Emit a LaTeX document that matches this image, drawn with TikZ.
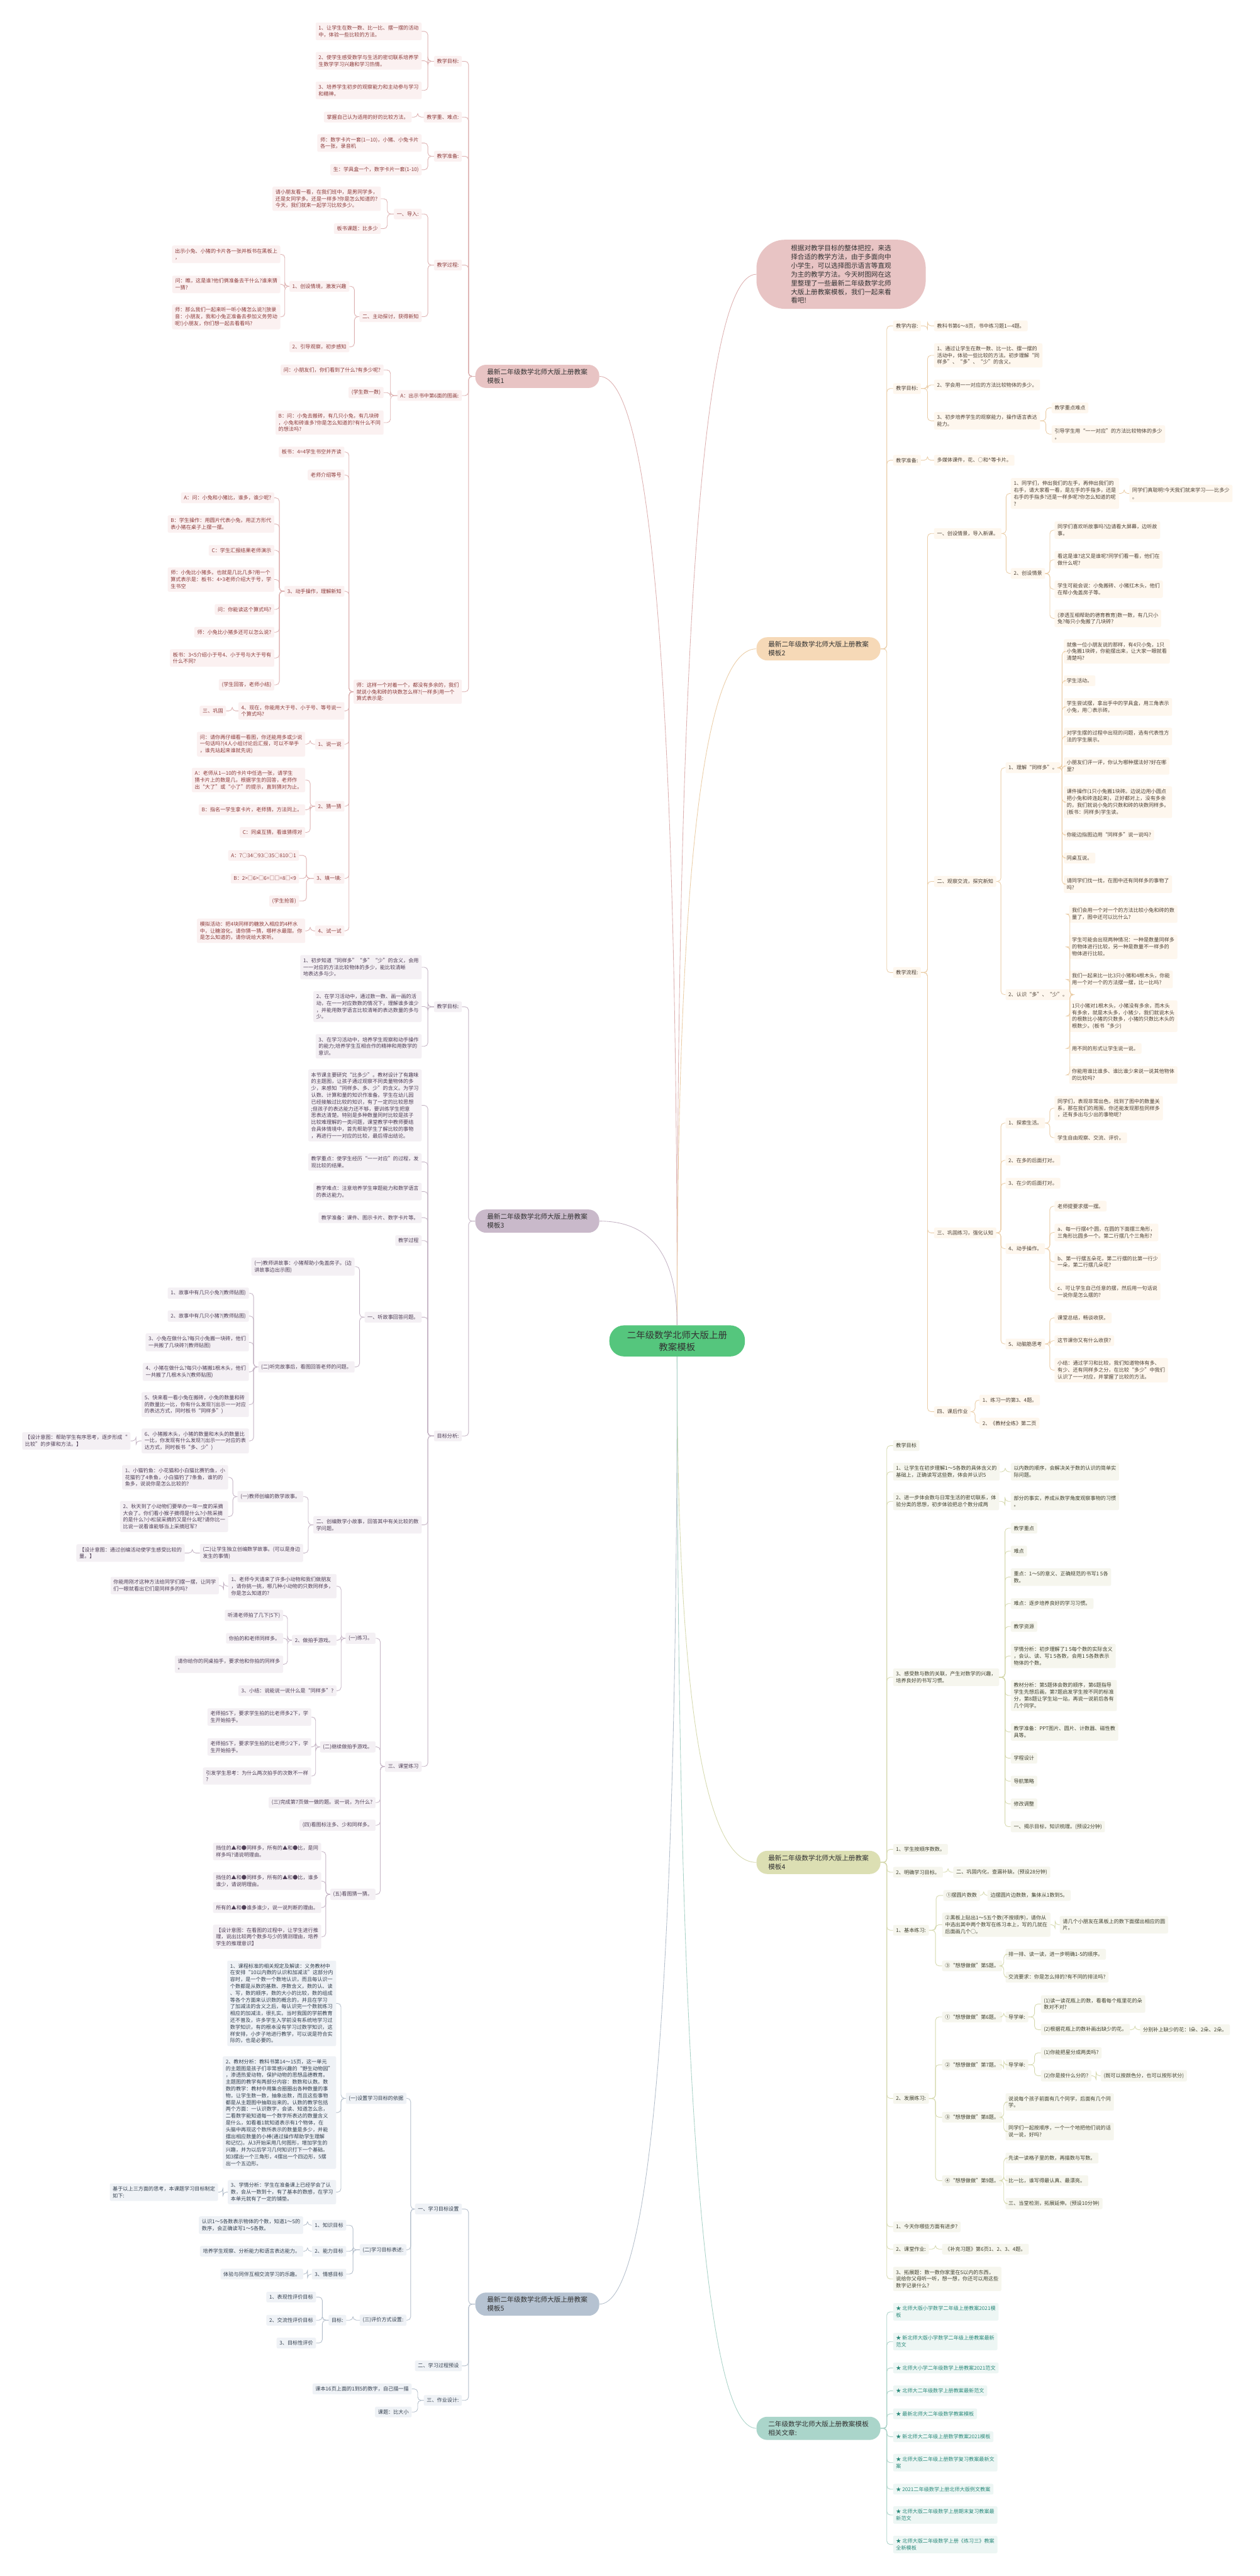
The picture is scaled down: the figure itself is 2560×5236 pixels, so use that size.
\documentclass[tikz,border=0pt]{standalone}
\usepackage{fontspec}
\setmainfont{Noto Sans CJK SC}
\usetikzlibrary{calc}
\definecolor{fillA}{HTML}{FBF1F1}\definecolor{textA}{HTML}{8C3B3B}\definecolor{lineA}{HTML}{DDB0B0}\definecolor{mainA}{HTML}{E8C4C4}
\definecolor{fillB}{HTML}{FEF7EE}\definecolor{textB}{HTML}{4D4136}\definecolor{lineB}{HTML}{EBCDA6}\definecolor{mainB}{HTML}{F6D9B7}
\definecolor{fillC}{HTML}{F4F0F4}\definecolor{textC}{HTML}{4E3E56}\definecolor{lineC}{HTML}{C5B4C5}\definecolor{mainC}{HTML}{C9B9CA}
\definecolor{fillD}{HTML}{F6F6EE}\definecolor{textD}{HTML}{40412F}\definecolor{lineD}{HTML}{D6D9AE}\definecolor{mainD}{HTML}{DCDFB3}
\definecolor{fillE}{HTML}{EFF2F6}\definecolor{textE}{HTML}{34404F}\definecolor{lineE}{HTML}{B3BECB}\definecolor{mainE}{HTML}{B5C2D1}
\definecolor{fillF}{HTML}{EDF6F4}\definecolor{textF}{HTML}{2B8A7B}\definecolor{lineF}{HTML}{A9D2C7}\definecolor{mainF}{HTML}{AAD5CA}
\definecolor{rootgreen}{HTML}{55C67D}\definecolor{inkmain}{HTML}{333333}
\tikzset{
  leaf/.style={rounded corners=3pt,inner xsep=6pt,inner ysep=6pt,align=left,font=\fontsize{10.4}{13.8}\selectfont},
  ka/.style={leaf,anchor=east,fill=fillA,text=textA},
  kb/.style={leaf,anchor=west,fill=fillB,text=textB},
  kc/.style={leaf,anchor=east,fill=fillC,text=textC},
  kd/.style={leaf,anchor=west,fill=fillD,text=textD},
  ke/.style={leaf,anchor=east,fill=fillE,text=textE},
  kf/.style={leaf,anchor=west,fill=fillF,text=textF},
  mainbox/.style={rounded corners=22pt,inner xsep=24pt,inner ysep=8.5pt,align=left,text=inkmain,font=\fontsize{13.6}{17.5}\selectfont},
  rootbox/.style={rounded corners=30pt,inner xsep=36pt,inner ysep=11pt,align=center,fill=rootgreen,text=inkmain,font=\fontsize{18.5}{24}\selectfont},
  link/.style={line width=1.1pt,rounded corners=7pt},
  la/.style={link,draw=lineA},lb/.style={link,draw=lineB},lc/.style={link,draw=lineC},
  ld/.style={link,draw=lineD},le/.style={link,draw=lineE},lf/.style={link,draw=lineF}
}
% left branch: parent west -> spine -> child east; right branch mirrored
\newcommand{\lks}[3]{\foreach \ch in {#3}{\draw[#1] (#2.west) -- ($(#2.west -| \ch.east)!.5!(#2.west)$) |- (\ch.east);}}
\newcommand{\rks}[3]{\foreach \ch in {#3}{\draw[#1] (#2.east) -- ($(#2.east -| \ch.west)!.5!(#2.east)$) |- (\ch.west);}}
\newcommand{\rtl}[3]{\draw[#1] (rt.#2) .. controls ($(rt.#2)!.667!(rt.#2 |- #3)$) and ($(#3)!.667!(rt.#2 |- #3)$) .. (#3);}
\begin{document}
\begin{tikzpicture}[x=1pt,y=-1pt]
\useasboundingbox (0,0) rectangle (2560,5236);
\fill[white] (0,0) rectangle (2560,5236);

% root and main branches
\node[rootbox] (rt) at (1376,2725.5) {二年级数学北师大版上册\\教案模板};
\node[mainbox,anchor=west,fill=mainA,rounded corners=58pt,inner xsep=70pt,inner ysep=10.5pt,font=\fontsize{13.6}{17.8}\selectfont] (m0) at (1537,557.5)
  {根据对教学目标的整体把控，来选\\择合适的教学方法，由于多面向中\\小学生，可以选择图示语言等直观\\为主的教学方法。今天树图网在这\\里整理了一些最新二年级数学北师\\大版上册教案模板，我们一起来看\\看吧!};
\node[mainbox,anchor=east,fill=mainA] (m1) at (1218,765) {最新二年级数学北师大版上册教案\\模板1};
\node[mainbox,anchor=west,fill=mainB] (m2) at (1537,1318.8) {最新二年级数学北师大版上册教案\\模板2};
\node[mainbox,anchor=east,fill=mainC] (m3) at (1218,2482) {最新二年级数学北师大版上册教案\\模板3};
\node[mainbox,anchor=west,fill=mainD] (m4) at (1537,3785.5) {最新二年级数学北师大版上册教案\\模板4};
\node[mainbox,anchor=east,fill=mainE] (m5) at (1218,4683.4) {最新二年级数学北师大版上册教案\\模板5};
\node[mainbox,anchor=west,fill=mainF] (m6) at (1537,4935.8) {二年级数学北师大版上册教案模板\\相关文章:};

% template 1
\node[ka] (a1) at (938.7,124.6) {教学目标:};
\node[ka] (a11) at (857,63.7) {1、让学生在数一数、比一比、摆一摆的活动\\中，体验一些比较的方法。};
\node[ka] (a12) at (857,123.5) {2、使学生感受数学与生活的密切联系培养学\\生数学学习兴趣和学习热情。};
\node[ka] (a13) at (857,183.8) {3、培养学生初步的观察能力和主动参与学习\\和精神。};
\node[ka] (a2) at (938.7,238) {教学重、难点:};
\node[ka] (a21) at (836.7,238) {掌握自己认为适用的好的比较方法。};
\node[ka] (a3) at (938.7,317.6) {教学准备:};
\node[ka] (a31) at (857,290.7) {师：数字卡片一套(1—10)，小猪、小兔卡片\\各一张，录音机};
\node[ka] (a32) at (857,345) {生：学具盒一个，数字卡片一套(1-10)};
\node[ka] (a4) at (938.7,538.8) {教学过程:};
\node[ka] (a41) at (857,435) {一、导入:};
\node[ka] (a411) at (774,404) {请小朋友看一看，在我们班中，是男同学多，\\还是女同学多。还是一样多?你是怎么知道的?\\今天，我们就来一起学习比较多少。};
\node[ka] (a412) at (774,464.7) {板书课题：比多少};
\node[ka] (a42) at (857,643.7) {二、主动探讨，获得新知};
\node[ka] (a421) at (710,582) {1、创设情境，激发兴趣};
\node[ka] (a4211) at (569.8,517) {出示小兔、小猪的卡片各一张并板书在黑板上\\，};
\node[ka] (a4212) at (569.8,578) {问：瞧，这是谁?他们俩准备去干什么?谁来猜\\一猜?};
\node[ka] (a4213) at (569.8,644) {师：那么我们一起来听一听小猪怎么说?(放录\\音：小朋友，我和小兔正准备去参加义务劳动\\呢!)小朋友，你们想一起去看看吗?};
\node[ka] (a422) at (710,705) {2、引导观察，初步感知};
\node[ka] (a5) at (938.7,804) {A：出示书中第6面的图画:};
\node[ka] (a51) at (779.6,752) {问：小朋友们，你们看到了什么?有多少呢?};
\node[ka] (a52) at (779.6,798) {(学生数一数)};
\node[ka] (a53) at (779.6,859) {B：问：小兔去搬砖，有几只小兔，有几块砖\\，小兔和砖谁多?你是怎么知道的?有什么不同\\的想法吗?};
\node[ka] (a6) at (938.7,1406) {师：这样一个对着一个，都没有多余的，我们\\就说小兔和砖的块数怎么样?(一样多)用一个\\算式表示是:};
\node[ka] (a61) at (700,918.8) {板书：4=4学生书空并齐读};
\node[ka] (a62) at (700,965.4) {老师介绍等号};
\node[ka] (a63) at (700,1201.7) {3、动手操作，理解新知};
\node[ka] (a631) at (557.5,1012) {A：问：小兔和小猪比，谁多，谁少呢?};
\node[ka] (a632) at (557.5,1065) {B：学生操作：用圆片代表小兔，用正方形代\\表小猪在桌子上摆一摆。};
\node[ka] (a633) at (557.5,1118.6) {C：学生汇报结果老师演示};
\node[ka] (a634) at (557.5,1178) {师：小兔比小猪多。也就是几比几多?用一个\\算式表示是：板书：4>3老师介绍大于号，学\\生书空};
\node[ka] (a635) at (557.5,1238.7) {问：你能读这个算式吗?};
\node[ka] (a636) at (557.5,1285) {师：小兔比小猪多还可以怎么说?};
\node[ka] (a637) at (557.5,1337.5) {板书：3<5介绍小于号4、小于号与大于号有\\什么不同?};
\node[ka] (a638) at (557.5,1392) {(学生回答，老师小结)};
\node[ka] (a64) at (700,1445) {4、现在，你能用大于号、小于号、等号说一\\个算式吗?};
\node[ka] (a641) at (459.6,1445) {三、巩固};
\node[ka] (a65) at (700,1512.6) {1、说一说};
\node[ka] (a651) at (620.4,1512.6) {问：请你再仔细看一看图，你还能用多或少说\\一句话吗?(4人小组讨论后汇报，可以不举手\\，谁先站起来谁就先说)};
\node[ka] (a66) at (700,1638.8) {2、猜一猜};
\node[ka] (a661) at (620.4,1585.5) {A：老师从1—10的卡片中任选一张，请学生\\猜卡片上的数是几，根据学生的回答，老师作\\出“大了”或“小了”的提示，直到猜对为止。};
\node[ka] (a662) at (620.4,1646) {B：指名一学生拿卡片，老师猜，方法同上。};
\node[ka] (a663) at (620.4,1692) {C：同桌互猜，看谁猜得对};
\node[ka] (a67) at (700,1785.5) {3、填一填:};
\node[ka] (a671) at (608,1738.7) {A：7○34○93○35○810○1};
\node[ka] (a672) at (608,1785.5) {B：2>□6>□6=□□=8□<9};
\node[ka] (a673) at (608,1831.5) {(学生抢答)};
\node[ka] (a68) at (700,1892) {4、试一试};
\node[ka] (a681) at (620.4,1892) {模拟活动：把4块同样的糖放入相应的4杯水\\中，让糖溶化。请你猜一猜，哪杯水最甜。你\\是怎么知道的，请你说给大家听。};

% template 3
\node[kc] (c1) at (938.7,2046.4) {教学目标:};
\node[kc] (c11) at (857,1966) {1、初步知道“同样多”“多”“少”的含义，会用\\一一对应的方法比较物体的多少，能比较清晰\\地表达多与少。};
\node[kc] (c12) at (857,2045.9) {2、在学习活动中，通过数一数、画一画的活\\动，在一一对应数数的情况下，理解谁多谁少\\，并能用数学语言比较清晰的表达数量的多与\\少。};
\node[kc] (c13) at (857,2126.7) {3、在学习活动中，培养学生观察和动手操作\\的能力;培养学生互相合作的精神和用数学的\\意识。};
\node[kc] (c2) at (938.7,2918.7) {目标分析:};
\node[kc] (c21) at (857,2246.8) {本节课主要研究“比多少”。教材设计了有趣味\\的主题图，让孩子通过观察不同类量物体的多\\少，来感知“同样多、多、少”的含义。为学习\\认数、计算和量的知识作准备。学生在幼儿园\\已经接触过比较的知识，有了一定的比较思想\\;但孩子的表达能力还不够，要训练学生把意\\思表达清楚。特别是多种数量同时比较是孩子\\比较难理解的一类问题，课堂教学中教师要结\\合具体情境中，首先帮助学生了解比较的事物\\，再进行一一对应的比较，最后得出结论。};
\node[kc] (c22) at (857,2361.8) {教学重点：使学生经历“一一对应”的过程，发\\现比较的结果。};
\node[kc] (c23) at (857,2421.9) {教学难点：注意培养学生审题能力和数学语言\\的表达能力。};
\node[kc] (c24) at (857,2475) {教学准备：课件、图示卡片、数字卡片等。};
\node[kc] (c25) at (857,2521.7) {教学过程};
\node[kc] (c26) at (857,2677.3) {一、听故事回答问题。};
\node[kc] (c261) at (720.8,2574.5) {(一)教师讲故事：小猪帮助小兔盖房子。(边\\讲故事边出示图)};
\node[kc] (c262) at (720.8,2778.4) {(二)听完故事后，看图回答老师的问题。};
\node[kc] (c2621) at (506,2628.5) {1、故事中有几只小兔?(教师贴图)};
\node[kc] (c2622) at (506,2675) {2、故事中有几只小猪?(教师贴图)};
\node[kc] (c2623) at (506,2728.4) {3、小兔在做什么?每只小兔搬一块砖，他们\\一共搬了几块砖?(教师贴图)};
\node[kc] (c2624) at (506,2788.5) {4、小猪在做什么?每只小猪搬1根木头，他们\\一共搬了几根木头?(教师贴图)};
\node[kc] (c2625) at (506,2855) {5、快来看一看小兔在搬砖，小兔的数量和砖\\的数量比一比，你有什么发现?(出示一一对应\\的表达方式，同时板书“同样多”)};
\node[kc] (c2626) at (506,2928.8) {6、小猪搬木头，小猪的数量和木头的数量比\\一比，你发现有什么发现?(出示一一对应的表\\达方式，同时板书“多、少”)};
\node[kc] (c26261) at (265.3,2928.8) {【设计意图：帮助学生有序思考，逐步形成“\\比较”的步骤和方法。】};
\node[kc] (c27) at (857,3099.4) {二、创编数学小故事，回答其中有关比较的数\\学问题。};
\node[kc] (c271) at (616.3,3042) {(一)教师创编的数学故事。};
\node[kc] (c2711) at (463.7,3002.8) {1、小猫钓鱼：小花猫和小白猫比赛钓鱼，小\\花猫钓了4条鱼，小白猫钓了7条鱼，谁钓的\\鱼多，说说你是怎么比较的?};
\node[kc] (c2712) at (463.7,3082.5) {2、秋天到了小动物们要举办一年一度的采摘\\大会了。你们看小猴子摘得是什么?小熊采摘\\的是什么?小松鼠采摘的又是什么呢?请你比一\\比说一说看谁能够当上采摘冠军?};
\node[kc] (c272) at (616.3,3156.6) {(二)让学生独立创编数学故事。(可以是身边\\发生的事情)};
\node[kc] (c2721) at (375.5,3156.6) {【设计意图：通过创编活动使学生感受比较的\\量。】};
\node[kc] (c28) at (857,3590.5) {三、课堂练习};
\node[kc] (c281) at (763.2,3330) {(一)练习。};
\node[kc] (c2811) at (684,3224) {1、老师今天请来了许多小动物和我们做朋友\\，请你挑一挑，哪几种小动物的只数同样多，\\你是怎么知道的?};
\node[kc] (c28111) at (444.9,3222.8) {你能用刚才这种方法给同学们摆一摆，让同学\\们一眼就看出它们是同样多的吗?};
\node[kc] (c2812) at (684,3334) {2、做拍手游戏。};
\node[kc] (c28121) at (575.5,3283.4) {听清老师拍了几下(5下)};
\node[kc] (c28122) at (575.5,3330) {你拍的和老师同样多。};
\node[kc] (c28123) at (575.5,3382.8) {请你给你的同桌拍手，要求他和你拍的同样多\\。};
\node[kc] (c2813) at (684,3436.6) {3、小结：说能说一说什么是“同样多”?};
\node[kc] (c282) at (763.2,3550.7) {(二)继续做拍手游戏。};
\node[kc] (c2821) at (632.6,3490) {老师拍5下，要求学生拍的比老师多2下，学\\生开始拍手。};
\node[kc] (c2822) at (632.6,3550.7) {老师拍5下，要求学生拍的比老师少2下，学\\生开始拍手。};
\node[kc] (c2823) at (632.6,3610) {引发学生思考：为什么两次拍手的次数不一样\\?};
\node[kc] (c283) at (763.2,3664) {(三)完成第7页做一做的题。说一说，为什么?};
\node[kc] (c284) at (763.2,3710) {(四)看图标注多、少和同样多。};
\node[kc] (c285) at (763.2,3850.4) {(五)看图猜一猜。};
\node[kc] (c2851) at (653,3763.4) {挡住的▲和●同样多，所有的▲和●比，是同\\样多吗?请说明理由。};
\node[kc] (c2852) at (653,3823.5) {挡住的▲和●同样多，所有的▲和●比，谁多\\谁少，请说明理由。};
\node[kc] (c2853) at (653,3877.3) {所有的▲和●谁多谁少，说一说判断的理由。};
\node[kc] (c2854) at (653,3936.8) {【设计意图：在看图的过程中，让学生进行推\\理，说出比较两个数多与少的猜测理由，培养\\学生的推理意识】};

% template 5
\node[ke] (e1) at (938.7,4490) {一、学习目标设置};
\node[ke] (e11) at (826,4265) {(一)设置学习目标的依据};
\node[ke] (e111) at (683.2,4072) {1、课程标准的相关规定及解读：义务教材中\\在安排“10以内数的认识和加减法”这部分内\\容时，是一个数一个数地认识，而且每认识一\\个数都是从数的基数、序数含义，数的认、读\\、写，数的顺序，数的大小的比较，数的组成\\等各个方面来认识数的概念的，并且在学习\\了加减法的含义之后，每认识完一个数就练习\\相应的加减法，很扎实。当时我国的学前教育\\还不普及，许多学生入学前没有系统地学习过\\数学知识，有的根本没有学习过数学知识，这\\样安排，小步子地进行教学，可以说是符合实\\际的，也是必要的。};
\node[ke] (e112) at (683.2,4294) {2、教材分析：教科书第14～15页，这一单元\\的主题图是孩子们非常感兴趣的“野生动物园”\\，渗透热爱动物，保护动物的思想品德教育。\\主题图的教学有两部分内容：数数和认数。数\\数的教学：教材中用集合圈圈出各种数量的事\\物，让学生数一数，抽象出数，而且这些事物\\都是从主题图中抽取出来的。认数的教学包括\\两个方面：一认识数字，会读、知道怎么念，\\二看数字能知道每一个数字所表达的数量含义\\是什么，如看着1就知道表示有1个物体，在\\头脑中再现这个数所表示的数量是多少，并能\\摆出相应数量的小棒(通过操作帮助学生理解\\和记忆)。从3开始采用几何图形，增加学生的\\兴趣，并为以后学习几何知识打下一个基础。\\如3摆出一个三角形，4摆出一个四边形，5摆\\出一个五边形。};
\node[ke] (e113) at (683.2,4455.7) {3、学情分析：学生在准备课上已经学会了认\\数，会从一数到十，有了基本的数感，在学习\\本单元就有了一定的铺垫。};
\node[ke] (e1131) at (443.3,4455.7) {基于以上三方面的思考，本课题学习目标制定\\如下:};
\node[ke] (e12) at (826,4573) {(二)学习目标表述:};
\node[ke] (e121) at (703.7,4522.9) {1、知识目标};
\node[ke] (e1211) at (616.3,4522.9) {认识1～5各数表示物体的个数，知道1～5的\\数序，会正确读写1～5各数。};
\node[ke] (e122) at (703.7,4576) {2、能力目标};
\node[ke] (e1221) at (616.3,4576) {培养学生观察、分析能力和语言表达能力。};
\node[ke] (e123) at (703.7,4622.3) {3、情感目标};
\node[ke] (e1231) at (616.3,4622.3) {体验与同伴互相交流学习的乐趣。};
\node[ke] (e13) at (826,4716) {(三)评价方式设置:};
\node[ke] (e131) at (703.7,4716) {目标:};
\node[ke] (e1311) at (642.4,4669) {1、表现性评价目标};
\node[ke] (e1312) at (642.4,4716) {2、交流性评价目标};
\node[ke] (e1313) at (642.4,4762.4) {3、目标性评价};
\node[ke] (e2) at (938.7,4808.8) {二、学习过程预设};
\node[ke] (e3) at (938.7,4879) {三、作业设计:};
\node[ke] (e31) at (836.7,4855.7) {课本16页上面的1到5的数字，自己描一描};
\node[ke] (e32) at (836.7,4902.6) {课题：比大小};

% template 2
\node[kb] (b1) at (1814.7,662.3) {教学内容:};
\node[kb] (b11) at (1898,662.3) {教科书第6～8页，书中练习题1—4题。};
\node[kb] (b2) at (1814.7,789.7) {教学目标:};
\node[kb] (b21) at (1898,722.3) {1、通过让学生在数一数、比一比、摆一摆的\\活动中，体验一些比较的方法。初步理解“同\\样多”、“多”、“少”的含义。};
\node[kb] (b22) at (1898,782.4) {2、学会用一一对应的方法比较物体的多少。};
\node[kb] (b23) at (1898,855.3) {3、初步培养学生的观察能力，操作语言表达\\能力。};
\node[kb] (b231) at (2137,829) {教学重点难点};
\node[kb] (b232) at (2137,882.3) {引导学生用“一一对应”的方法比较物体的多少\\。};
\node[kb] (b3) at (1814.7,935.6) {教学准备:};
\node[kb] (b31) at (1898,935.6) {多媒体课件，花、○和\textasciicircum 等卡片。};
\node[kb] (b4) at (1814.7,1976.8) {教学流程:};
\node[kb] (b41) at (1898,1084.4) {一、创设情景，导入新课。};
\node[kb] (b411) at (2053.9,1003) {1、同学们，伸出我们的左手，再伸出我们的\\右手，请大家看一看，是左手的手指多，还是\\右手的手指多?还是一样多呢?你怎么知道的呢\\?};
\node[kb] (b4111) at (2294.7,1003) {同学们真聪明!今天我们就来学习——比多少\\。};
\node[kb] (b412) at (2053.9,1165.7) {2、创设情景};
\node[kb] (b4121) at (2142.8,1077.6) {同学们喜欢听故事吗?边请看大屏幕，边听故\\事。};
\node[kb] (b4122) at (2142.8,1137.6) {看这是谁?这又是谁呢?同学们看一看，他们在\\做什么呢?};
\node[kb] (b4123) at (2142.8,1197.7) {学生可能会说：小兔搬砖、小猪扛木头，他们\\在帮小兔盖房子等。};
\node[kb] (b4124) at (2142.8,1257) {(渗透互相帮助的德育教育)数一数，有几只小\\兔?每只小兔搬了几块砖?};
\node[kb] (b42) at (1898,1791.6) {二、观察交流，探究新知};
\node[kb] (b421) at (2043.2,1560.4) {1、理解“同样多”。};
\node[kb] (b4211) at (2161.6,1324) {就像一位小朋友说的那样，有4只小兔，1只\\小兔搬1块砖，你能摆出来，让大家一眼就看\\清楚吗?};
\node[kb] (b4212) at (2161.6,1383.6) {学生活动。};
\node[kb] (b4213) at (2161.6,1436.9) {学生尝试摆，拿出手中的学具盒，用三角表示\\小兔，用○表示砖。};
\node[kb] (b4214) at (2161.6,1497) {对学生摆的过程中出现的问题，选有代表性方\\法的学生展示。};
\node[kb] (b4215) at (2161.6,1557) {小朋友们评一评，你认为哪种摆法好?好在哪\\里?};
\node[kb] (b4216) at (2161.6,1630.5) {课件操作(1只小兔搬1块砖。边说边用小圆点\\把小兔和砖连起来)，正好都对上，没有多余\\的，我们就说小兔的只数和砖的块数同样多。\\(板书：同样多)学生读。};
\node[kb] (b4217) at (2161.6,1697.3) {你能边指图边用“同样多”说一说吗?};
\node[kb] (b4218) at (2161.6,1744) {同桌互说。};
\node[kb] (b4219) at (2161.6,1797.2) {请同学们找一找，在图中还有同样多的事物了\\吗?};
\node[kb] (b422) at (2043.2,2021.7) {2、认识“多”、“少”。};
\node[kb] (b4221) at (2172.3,1857.8) {我们会用一个对一个的方法比较小兔和砖的数\\量了，图中还可以比什么?};
\node[kb] (b4222) at (2172.3,1924.6) {学生可能会出现两种情况：一种是数量同样多\\的物体进行比较，另一种是数量不一样多的\\物体进行比较。};
\node[kb] (b4223) at (2172.3,1990.8) {我们一起来比一比3只小猪和4根木头，你能\\用一个对一个的方法摆一摆，比一比吗?};
\node[kb] (b4224) at (2172.3,2065.5) {1只小猪对1根木头，小猪没有多余，而木头\\有多余，就是木头多，小猪少，我们就说木头\\的根数比小猪的只数多，小猪的只数比木头的\\根数少。(板书“多少)};
\node[kb] (b4225) at (2172.3,2131.2) {用不同的形式让学生说一说。};
\node[kb] (b4226) at (2172.3,2185) {你能用谁比谁多、谁比谁少来说一说其他物体\\的比较吗?};
\node[kb] (b43) at (1898,2506) {三、巩固练习，强化认知};
\node[kb] (b431) at (2043.2,2282.7) {1、探索生活。};
\node[kb] (b4311) at (2142.8,2252.4) {同学们，表现非常出色，找到了图中的数量关\\系，那在我们的周围，你还能发现那些同样多\\，还有多出与少出的事物呢?};
\node[kb] (b4312) at (2142.8,2312.5) {学生自由观察、交流、评价。};
\node[kb] (b432) at (2043.2,2358.5) {2、在多的后面打对。};
\node[kb] (b433) at (2043.2,2405) {3、在少的后面打对。};
\node[kb] (b434) at (2043.2,2538) {4、动手操作。};
\node[kb] (b4341) at (2142.8,2451.7) {老师提要求摆一摆。};
\node[kb] (b4342) at (2142.8,2505) {a、每一行摆4个圆，在圆的下面摆三角形，\\三角形比圆多一个。第二行摆几个三角形?};
\node[kb] (b4343) at (2142.8,2565) {b、第一行摆五朵花，第二行摆的比第一行少\\一朵，第二行摆几朵花?};
\node[kb] (b4344) at (2142.8,2625) {c、可让学生自己任意的摆，然后用一句话说\\一说你是怎么摆的?};
\node[kb] (b435) at (2043.2,2731.7) {5、动脑筋思考};
\node[kb] (b4351) at (2142.8,2678.9) {课堂总结，畅谈收获。};
\node[kb] (b4352) at (2142.8,2725) {这节课你又有什么收获?};
\node[kb] (b4353) at (2142.8,2785) {小结：通过学习和比较，我们知道物体有多、\\有少、还有同样多之分，在比较“多少”中我们\\认识了一一对应，并掌握了比较的方法。};
\node[kb] (b44) at (1898,2869.3) {四、课后作业};
\node[kb] (b441) at (1990.2,2845.8) {1、练习一的第3、4题。};
\node[kb] (b442) at (1990.2,2892.8) {2、《教材全练》第二页};

% template 4
\node[kd] (d1) at (1814.7,2938.3) {教学目标};
\node[kd] (d2) at (1814.7,2991.5) {1、让学生在初步理解1～5各数的具体含义的\\基础上，正确读写这些数，体会并认识5};
\node[kd] (d21) at (2053.9,2991.5) {以内数的顺序，会解决关于数的认识的简单实\\际问题。};
\node[kd] (d3) at (1814.7,3051.7) {2、进一步体会数与日常生活的密切联系，体\\验分类的思想，初步体验把总个数分成两};
\node[kd] (d31) at (2053.9,3051.7) {部分的事实，养成从数学角度观察事物的习惯\\。};
\node[kd] (d4) at (1814.7,3409.2) {3、感受数与数的关联，产生对数学的兴趣，\\培养良好的书写习惯。};
\node[kd] (d41) at (2053.9,3106.2) {教学重点};
\node[kd] (d42) at (2053.9,3152.7) {难点};
\node[kd] (d43) at (2053.9,3205.5) {重点：1～5的意义、正确规范的书写1~5各\\数。};
\node[kd] (d44) at (2053.9,3259.4) {难点：逐步培养良好的学习习惯。};
\node[kd] (d45) at (2053.9,3306) {教学资源};
\node[kd] (d46) at (2053.9,3366) {学情分析：初步理解了1~5每个数的实际含义\\，会认、读、写1~5各数，会用1~5各数表示\\物体的个数。};
\node[kd] (d47) at (2053.9,3446.3) {教材分析：第5题体会数的顺序，第6题指导\\学生先想后画，第7题启发学生按不同的标准\\分，第8题让学生站一站，再说一说前后各有\\几个同学。};
\node[kd] (d48) at (2053.9,3520.3) {教学准备：PPT图片、圆片、计数器、磁性教\\具等。};
\node[kd] (d49) at (2053.9,3573.7) {学程设计};
\node[kd] (d410) at (2053.9,3620.3) {导航策略};
\node[kd] (d411) at (2053.9,3666.3) {修改调整};
\node[kd] (d412) at (2053.9,3712.9) {一、揭示目标，知识梳理。(预设2分钟)};
\node[kd] (d5) at (1814.7,3759) {1、学生按顺序数数。};
\node[kd] (d6) at (1814.7,3805.5) {2、明确学习目标。};
\node[kd] (d61) at (1937,3805.5) {二、巩固内化，查漏补缺。(预设28分钟)};
\node[kd] (d7) at (1814.7,3923.4) {1、基本练习:};
\node[kd] (d71) at (1916.7,3852.6) {①摆圆片数数};
\node[kd] (d711) at (2006.5,3852.6) {边摆圆片边数数，集体从1数到5。};
\node[kd] (d72) at (1914.3,3912.2) {②黑板上贴出1～5五个数(不按顺序)，请你从\\中选出其中两个数写在练习本上，写的几就在\\后面画几个○。};
\node[kd] (d721) at (2153.4,3912.2) {请几个小朋友在黑板上的数下面摆出相应的圆\\片。};
\node[kd] (d73) at (1914.3,3995.8) {③“想想做做”第5题。};
\node[kd] (d731) at (2043.2,3972.2) {排一排、读一读，进一步明确1-5的顺序。};
\node[kd] (d732) at (2043.2,4018.8) {交流要求：你是怎么排的?有不同的排法吗?};
\node[kd] (d8) at (1814.7,4265.2) {2、发展练习:};
\node[kd] (d81) at (1914.3,4099.6) {①“想想做做”第6题。};
\node[kd] (d811) at (2043.2,4099.6) {导学单:};
\node[kd] (d8111) at (2115,4073.3) {(1)读一读花瓶上的数，看看每个瓶里花的朵\\数对不对?};
\node[kd] (d8112) at (2115,4125.5) {(2)根据花瓶上的数补画出缺少的花。};
\node[kd] (d81121) at (2316.7,4125.5) {分别补上缺少的花：l朵、2朵、2朵。};
\node[kd] (d82) at (1914.3,4196.8) {②“想想做做”第7题。};
\node[kd] (d821) at (2043.2,4196.8) {导学单:};
\node[kd] (d8211) at (2115,4172.6) {(1)你能把星分成两类吗?};
\node[kd] (d8212) at (2115,4219.2) {(2)你是按什么分的?};
\node[kd] (d82121) at (2236.7,4219.2) {(既可以按颜色分，也可以按形状分)};
\node[kd] (d83) at (1914.3,4303.4) {③“想想做做”第8题。};
\node[kd] (d831) at (2043.2,4272.5) {说说每个孩子前面有几个同学，后面有几个同\\学。};
\node[kd] (d832) at (2043.2,4332.5) {同学们一起按顺序，一个一个地把他们说的话\\说一说，好吗?};
\node[kd] (d84) at (1914.3,4432.4) {④“想想做做”第9题。};
\node[kd] (d841) at (2043.2,4386.4) {先读一读格子里的数，再描数与写数。};
\node[kd] (d842) at (2043.2,4432.4) {比一比，谁写得最认真、最漂亮。};
\node[kd] (d843) at (2043.2,4479) {三、当堂检测，拓展延伸。(预设10分钟)};
\node[kd] (d9) at (1814.7,4526.2) {1、今天你哪些方面有进步?};
\node[kd] (d10) at (1814.7,4571.6) {2、课堂作业:};
\node[kd] (d101) at (1914.3,4571.6) {《补充习题》第6页1、2、3、4题。};
\node[kd] (d11) at (1814.7,4632.2) {3、拓展题：数一数你家里在5以内的东西，\\说给你父母听一听，想一想，你还可以用这些\\数字记录什么?};

% related articles
\node[kf] (f1) at (1814.7,4699) {★ 北师大版小学数学二年级上册教案2021模\\板};
\node[kf] (f2) at (1814.7,4759.4) {★ 新北师大版小学数学二年级上册教案最新\\范文};
\node[kf] (f3) at (1814.7,4813) {★ 北师大小学二年级数学上册教案2021范文};
\node[kf] (f4) at (1814.7,4859.6) {★ 北师大二年级数学上册教案最新范文};
\node[kf] (f5) at (1814.7,4906.2) {★ 最新北师大二年级数学教案模板};
\node[kf] (f6) at (1814.7,4952.9) {★ 新北师大二年级上册数学教案2021模板};
\node[kf] (f7) at (1814.7,5005.6) {★ 北师大版二年级上册数学复习教案最新文\\案};
\node[kf] (f8) at (1814.7,5059.5) {★ 2021二年级数学上册北师大版例文教案};
\node[kf] (f9) at (1814.7,5111.9) {★ 北师大版二年级数学上册期末复习教案最\\新范文};
\node[kf] (f10) at (1814.7,5171.9) {★ 北师大版二年级数学上册《练习三》教案\\全新模板};

% connectors from the root
\rtl{la}{north}{m1.east}
\rtl{la}{north}{m0.west}
\rtl{lb}{north}{m2.west}
\rtl{lc}{north}{m3.east}
\rtl{ld}{south}{m4.west}
\rtl{le}{south}{m5.east}
\rtl{lf}{south}{m6.west}

% template 1 links
\lks{la}{m1}{a1,a2,a3,a4,a5,a6}
\lks{la}{a1}{a11,a12,a13}
\lks{la}{a2}{a21}
\lks{la}{a3}{a31,a32}
\lks{la}{a4}{a41,a42}
\lks{la}{a41}{a411,a412}
\lks{la}{a42}{a421,a422}
\lks{la}{a421}{a4211,a4212,a4213}
\lks{la}{a5}{a51,a52,a53}
\lks{la}{a6}{a61,a62,a63,a64,a65,a66,a67,a68}
\lks{la}{a63}{a631,a632,a633,a634,a635,a636,a637,a638}
\lks{la}{a64}{a641}
\lks{la}{a65}{a651}
\lks{la}{a66}{a661,a662,a663}
\lks{la}{a67}{a671,a672,a673}
\lks{la}{a68}{a681}

% template 3 links
\lks{lc}{m3}{c1,c2}
\lks{lc}{c1}{c11,c12,c13}
\lks{lc}{c2}{c21,c22,c23,c24,c25,c26,c27,c28}
\lks{lc}{c26}{c261,c262}
\lks{lc}{c262}{c2621,c2622,c2623,c2624,c2625,c2626}
\lks{lc}{c2626}{c26261}
\lks{lc}{c27}{c271,c272}
\lks{lc}{c271}{c2711,c2712}
\lks{lc}{c272}{c2721}
\lks{lc}{c28}{c281,c282,c283,c284,c285}
\lks{lc}{c281}{c2811,c2812,c2813}
\lks{lc}{c2811}{c28111}
\lks{lc}{c2812}{c28121,c28122,c28123}
\lks{lc}{c282}{c2821,c2822,c2823}
\lks{lc}{c285}{c2851,c2852,c2853,c2854}

% template 5 links
\lks{le}{m5}{e1,e2,e3}
\lks{le}{e1}{e11,e12,e13}
\lks{le}{e11}{e111,e112,e113}
\lks{le}{e113}{e1131}
\lks{le}{e12}{e121,e122,e123}
\lks{le}{e121}{e1211}
\lks{le}{e122}{e1221}
\lks{le}{e123}{e1231}
\lks{le}{e13}{e131}
\lks{le}{e131}{e1311,e1312,e1313}
\lks{le}{e3}{e31,e32}

% template 2 links
\rks{lb}{m2}{b1,b2,b3,b4}
\rks{lb}{b1}{b11}
\rks{lb}{b2}{b21,b22,b23}
\rks{lb}{b23}{b231,b232}
\rks{lb}{b3}{b31}
\rks{lb}{b4}{b41,b42,b43,b44}
\rks{lb}{b41}{b411,b412}
\rks{lb}{b411}{b4111}
\rks{lb}{b412}{b4121,b4122,b4123,b4124}
\rks{lb}{b42}{b421,b422}
\rks{lb}{b421}{b4211,b4212,b4213,b4214,b4215,b4216,b4217,b4218,b4219}
\rks{lb}{b422}{b4221,b4222,b4223,b4224,b4225,b4226}
\rks{lb}{b43}{b431,b432,b433,b434,b435}
\rks{lb}{b431}{b4311,b4312}
\rks{lb}{b434}{b4341,b4342,b4343,b4344}
\rks{lb}{b435}{b4351,b4352,b4353}
\rks{lb}{b44}{b441,b442}

% template 4 links
\rks{ld}{m4}{d1,d2,d3,d4,d5,d6,d7,d8,d9,d10,d11}
\rks{ld}{d2}{d21}
\rks{ld}{d3}{d31}
\rks{ld}{d4}{d41,d42,d43,d44,d45,d46,d47,d48,d49,d410,d411,d412}
\rks{ld}{d6}{d61}
\rks{ld}{d7}{d71,d72,d73}
\rks{ld}{d71}{d711}
\rks{ld}{d72}{d721}
\rks{ld}{d73}{d731,d732}
\rks{ld}{d8}{d81,d82,d83,d84}
\rks{ld}{d81}{d811}
\rks{ld}{d811}{d8111,d8112}
\rks{ld}{d8112}{d81121}
\rks{ld}{d82}{d821}
\rks{ld}{d821}{d8211,d8212}
\rks{ld}{d8212}{d82121}
\rks{ld}{d83}{d831,d832}
\rks{ld}{d84}{d841,d842,d843}
\rks{ld}{d10}{d101}

% related links
\rks{lf}{m6}{f1,f2,f3,f4,f5,f6,f7,f8,f9,f10}
\end{tikzpicture}
\end{document}
